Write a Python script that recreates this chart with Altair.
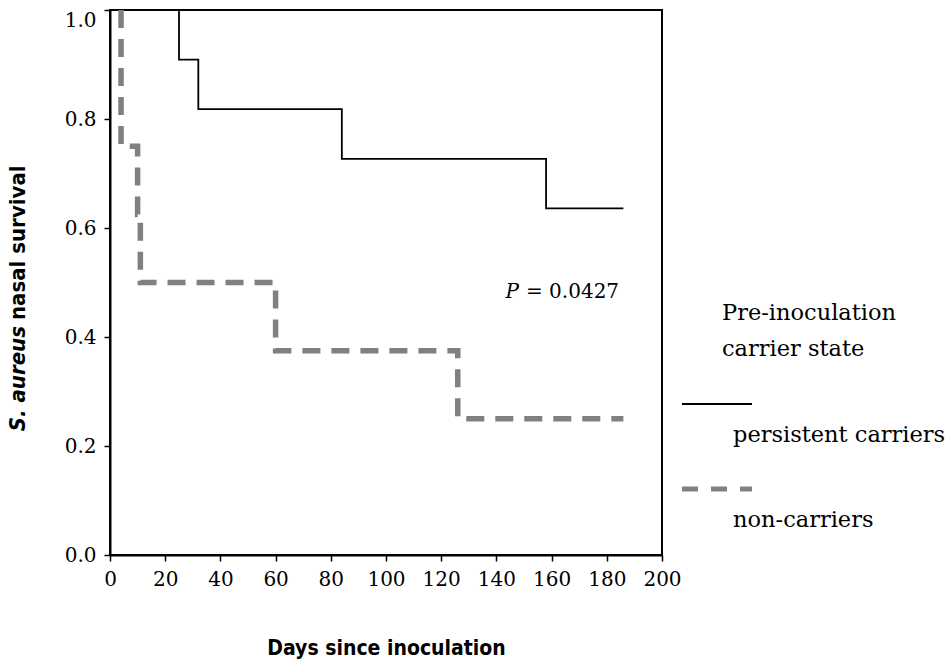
import altair as alt
import pandas as pd

# Kaplan-Meier step estimates for the two carrier groups
persistent_days = [0, 25, 32, 84, 158, 186]
persistent_surv = [1.0, 0.909, 0.818, 0.727, 0.636, 0.636]

noncarrier_days = [4, 4, 10, 11, 60, 126, 186]
noncarrier_surv = [1.0, 0.75, 0.625, 0.5, 0.375, 0.25, 0.25]

x_ticks = [0, 20, 40, 60, 80, 100, 120, 140, 160, 180, 200]
y_ticks = [0.0, 0.2, 0.4, 0.6, 0.8, 1.0]

p_value = "= 0.0427"
legend_title = ["Pre-inoculation", "carrier state"]
group_labels = ["persistent carriers", "non-carriers"]

SERIF = "DejaVu Serif"
COND = "Liberation Sans Narrow, DejaVu Sans Condensed, Roboto Condensed, sans-serif"

persistent = pd.DataFrame({"day": persistent_days, "surv": persistent_surv,
                           "i": range(len(persistent_days))})
noncarrier = pd.DataFrame({"day": noncarrier_days, "surv": noncarrier_surv,
                           "i": range(len(noncarrier_days))})
one = pd.DataFrame({"k": [0]})

x_enc = alt.X(
    "day:Q",
    scale=alt.Scale(domain=[0, 200], nice=False),
    axis=alt.Axis(
        values=x_ticks, format="d", title="Days since inoculation",
        titleFont=COND, titleFontSize=21, titleFontWeight="bold",
        titleBaseline="alphabetic", titleY=99, titleColor="black",
        labelOverlap=False, labelFlush=False,
    ),
)
y_enc = alt.Y(
    "surv:Q",
    scale=alt.Scale(domain=[0, 1], nice=False),
    axis=alt.Axis(
        values=y_ticks, format=".1f", title=None, labelOverlap=False,
        labelFlush=False,
        labelBaseline={"condition": {"test": "datum.value == 1", "value": "top"},
                       "value": "middle"},
    ),
)

persist_line = alt.Chart(persistent).mark_line(
    interpolate="step-after", color="black", strokeWidth=1.8
).encode(x=x_enc, y=y_enc, order="i:Q")

noncarrier_line = alt.Chart(noncarrier).mark_line(
    interpolate="step-after", color="#808080", strokeWidth=5.5,
    strokeDash=[18, 11], strokeCap="butt"
).encode(x="day:Q", y="surv:Q", order="i:Q")


def label(text, x, y, size=22.5, align="left", style="normal", font=SERIF,
          weight="normal", angle=0):
    return alt.Chart(one).mark_text(
        text=text, font=font, fontSize=size, align=align, baseline="middle",
        fontStyle=style, fontWeight=weight, angle=angle, color="black"
    ).encode(x=alt.value(x), y=alt.value(y))


# y-axis title with the italic species name
y_title = (
    label("S. aureus", -92, 316, size=22, align="right", style="italic",
          font=COND, weight="bold", angle=270)
    + label("nasal survival", -92, 310, size=22, align="left",
            font=COND, weight="bold", angle=270)
)

# P-value annotation
p_text = (
    label("P", 409, 282, size=20, align="right", style="italic")
    + label(p_value, 416, 282, size=20)
)

# legend drawn beside the plot
legend = (
    label(legend_title[0], 612, 303)
    + label(legend_title[1], 612, 339)
    + alt.Chart(one).mark_rule(color="black", strokeWidth=1.8).encode(
        x=alt.value(572), x2=alt.value(642), y=alt.value(394))
    + label(group_labels[0], 623, 425)
    + alt.Chart(one).mark_rule(color="#808080", strokeWidth=5,
                               strokeDash=[16, 13], strokeCap="butt").encode(
        x=alt.value(572), x2=alt.value(642), y=alt.value(479))
    + label(group_labels[1], 623, 510)
)

chart = (
    alt.layer(persist_line, noncarrier_line, y_title, p_text, legend)
    .properties(
        width=552, height=545,
        autosize=alt.AutoSizeParams(type="none"),
        padding={"left": 110, "top": 10, "right": 288, "bottom": 108},
        background="white",
    )
    .configure_view(stroke="black", strokeWidth=2)
    .configure_axis(
        grid=False, domainColor="black", domainWidth=2, tickColor="black",
        tickWidth=1.5, tickSize=6, labelFont=SERIF, labelFontSize=20,
        labelColor="black", labelPadding=8,
    )
)

chart.save("out.html", embed_options={"renderer": "svg", "actions": False})
